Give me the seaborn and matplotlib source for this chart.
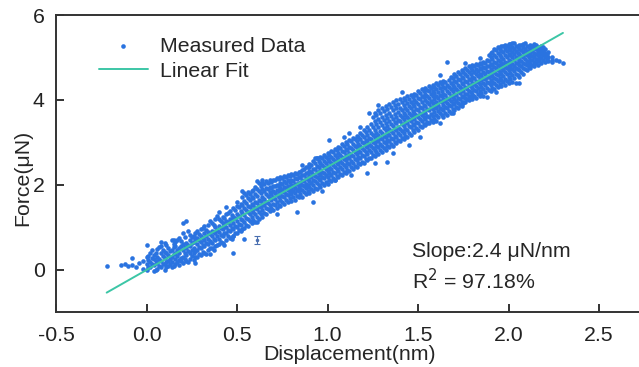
import numpy as np
import pandas as pd
import matplotlib
matplotlib.use("Agg")
import matplotlib.pyplot as plt
import seaborn as sns

# measured points (displacement nm -> force uN)
col_x = [-0.22, -0.14, -0.12, -0.10, -0.08, -0.06, -0.04, -0.02,
         0.00, 0.02, 0.04, 0.06, 0.08, 0.10, 0.12, 0.14, 0.16, 0.18,
         0.20, 0.22, 0.24, 0.26, 0.28, 0.30, 0.32, 0.34, 0.36, 0.38,
         0.40, 0.42, 0.44, 0.46, 0.48, 0.50, 0.52, 0.54, 0.56, 0.58,
         0.60, 0.62, 0.64, 0.66, 0.68, 0.70, 0.72, 0.74, 0.76, 0.78,
         0.80, 0.82, 0.84, 0.86, 0.88, 0.90, 0.92, 0.94, 0.96, 0.98,
         1.00, 1.02, 1.04, 1.06, 1.08, 1.10, 1.12, 1.14, 1.16, 1.18,
         1.20, 1.22, 1.24, 1.26, 1.28, 1.30, 1.32, 1.34, 1.36, 1.38,
         1.40, 1.42, 1.44, 1.46, 1.48, 1.50, 1.52, 1.54, 1.56, 1.58,
         1.60, 1.62, 1.64, 1.66, 1.68, 1.70, 1.72, 1.74, 1.76, 1.78,
         1.80, 1.82, 1.84, 1.86, 1.88, 1.90, 1.92, 1.94, 1.96, 1.98,
         2.00, 2.02, 2.04, 2.06, 2.08, 2.10, 2.12, 2.14, 2.16, 2.18,
         2.20, 2.22, 2.24, 2.26, 2.28, 2.30]
col_y = [
    [0.08], [0.10], [0.12], [0.08], [0.28, 0.10], [0.05], [0.15], [0.02, 0.20],
    [0.00, 0.12, 0.30, 0.59], [0.05, 0.18, 0.40], [-0.03, 0.10, 0.25, 0.35],
    [0.02, 0.15, 0.30, 0.48], [0.05, 0.20, 0.40, 0.55], [0.00, 0.12, 0.28, 0.42, 0.62],
    [0.08, 0.20, 0.35, 0.50], [0.05, 0.18, 0.30, 0.45, 0.70], [0.12, 0.25, 0.40, 0.55, 0.65],
    [0.10, 0.22, 0.38, 0.50, 0.75],
    [0.15, 0.30, 0.45, 0.60, 0.85, 1.10], [0.20, 0.35, 0.50, 0.62, 1.15],
    [0.25, 0.40, 0.55, 0.70, 0.82], [0.22, 0.38, 0.50, 0.65, 0.80],
    [0.30, 0.45, 0.60, 0.75, 0.90], [0.35, 0.50, 0.65, 0.78, 0.95],
    [0.40, 0.55, 0.70, 0.85, 1.02], [0.45, 0.60, 0.72, 0.88, 1.05],
    [0.50, 0.62, 0.78, 0.92, 1.10], [0.55, 0.70, 0.85, 1.00, 1.18],
    [0.60, 0.72, 0.88, 1.02, 1.20, 1.35], [0.62, 0.78, 0.95, 1.10, 1.25],
    [0.70, 0.85, 1.00, 1.15, 1.30], [0.75, 0.90, 1.05, 1.20, 1.38],
    [0.40, 0.80, 0.95, 1.10, 1.25, 1.45], [0.85, 1.00, 1.15, 1.30, 1.50, 1.60],
    [0.90, 1.05, 1.20, 1.38, 1.55], [0.73, 0.98, 1.12, 1.28, 1.45, 1.62, 1.80],
    [1.02, 1.18, 1.35, 1.50, 1.68, 1.82], [1.10, 1.25, 1.40, 1.55, 1.72, 1.85],
    [1.12, 1.30, 1.45, 1.60, 1.78, 1.95], [1.20, 1.35, 1.50, 1.65, 1.85, 2.05],
    [1.25, 1.40, 1.55, 1.72, 1.90, 2.05], [1.30, 1.45, 1.60, 1.78, 1.92, 2.08],
    [1.38, 1.52, 1.68, 1.82, 1.95, 2.10], [1.40, 1.55, 1.70, 1.85, 1.98, 2.12],
    [1.45, 1.60, 1.75, 1.88, 2.00, 2.15], [1.50, 1.65, 1.80, 1.92, 2.05, 2.18],
    [1.55, 1.70, 1.82, 1.95, 2.08, 2.20], [1.60, 1.75, 1.88, 1.98, 2.10, 2.22],
    [1.62, 1.78, 1.90, 2.00, 2.12, 2.25], [1.65, 1.80, 1.92, 2.02, 2.15, 2.28],
    [1.70, 1.85, 1.95, 2.05, 2.18, 2.30], [1.72, 1.88, 2.00, 2.10, 2.22, 2.35],
    [1.78, 1.92, 2.02, 2.15, 2.28, 2.42], [1.80, 1.95, 2.08, 2.20, 2.32, 2.48],
    [1.85, 2.00, 2.12, 2.25, 2.38, 2.55], [1.90, 2.05, 2.18, 2.30, 2.45, 2.62],
    [1.95, 2.10, 2.22, 2.35, 2.50, 2.65], [2.00, 2.15, 2.28, 2.42, 2.55, 2.70],
    [2.02, 2.18, 2.32, 2.45, 2.60, 2.75], [2.08, 2.22, 2.38, 2.50, 2.65, 2.80],
    [2.12, 2.28, 2.42, 2.55, 2.70, 2.85], [2.18, 2.32, 2.48, 2.60, 2.75, 2.90],
    [2.22, 2.38, 2.52, 2.65, 2.80, 2.95], [2.28, 2.42, 2.58, 2.70, 2.85, 3.00],
    [2.32, 2.48, 2.62, 2.75, 2.90, 3.05], [2.38, 2.52, 2.68, 2.82, 2.95, 3.10],
    [2.42, 2.58, 2.72, 2.88, 3.02, 3.15], [2.48, 2.62, 2.78, 2.92, 3.08, 3.22],
    [2.52, 2.68, 2.82, 2.98, 3.12, 3.30], [2.58, 2.72, 2.88, 3.02, 3.18, 3.35],
    [2.62, 2.78, 2.92, 3.08, 3.22, 3.42], [2.68, 2.82, 2.98, 3.12, 3.30, 3.50, 3.70],
    [2.72, 2.88, 3.02, 3.18, 3.35, 3.55, 3.75], [2.78, 2.92, 3.08, 3.22, 3.40, 3.60, 3.80],
    [2.82, 2.98, 3.12, 3.28, 3.45, 3.65, 3.85], [2.88, 3.02, 3.18, 3.32, 3.50, 3.70, 3.90],
    [2.92, 3.08, 3.22, 3.38, 3.55, 3.75, 3.95], [2.98, 3.12, 3.28, 3.45, 3.60, 3.80, 4.00],
    [3.02, 3.18, 3.32, 3.50, 3.65, 3.82, 4.02], [3.08, 3.22, 3.38, 3.55, 3.70, 3.88, 4.05],
    [3.12, 3.28, 3.45, 3.60, 3.75, 3.92, 4.10], [3.18, 3.35, 3.50, 3.65, 3.80, 3.95, 4.12],
    [3.25, 3.40, 3.55, 3.70, 3.85, 4.00, 4.15], [3.30, 3.45, 3.60, 3.75, 3.90, 4.05, 4.20],
    [3.35, 3.50, 3.65, 3.80, 3.95, 4.10, 4.25], [3.40, 3.55, 3.70, 3.85, 4.00, 4.15, 4.28],
    [3.45, 3.60, 3.75, 3.90, 4.05, 4.20, 4.32], [3.48, 3.62, 3.78, 3.92, 4.08, 4.22, 4.35],
    [3.50, 3.65, 3.80, 3.95, 4.10, 4.25, 4.40], [3.46, 3.68, 3.82, 3.98, 4.12, 4.28, 4.42],
    [3.60, 3.75, 3.88, 4.02, 4.15, 4.30, 4.45], [3.65, 3.80, 3.92, 4.05, 4.20, 4.35, 4.90],
    [3.70, 3.85, 3.98, 4.10, 4.25, 4.40, 4.55], [3.75, 3.90, 4.02, 4.15, 4.30, 4.45, 4.60],
    [3.80, 3.92, 4.05, 4.20, 4.35, 4.50, 4.65], [3.85, 3.95, 4.10, 4.25, 4.40, 4.55, 4.70],
    [3.95, 4.05, 4.15, 4.30, 4.45, 4.60, 4.75, 4.87], [4.00, 4.10, 4.20, 4.35, 4.50, 4.65, 4.80],
    [4.02, 4.15, 4.28, 4.40, 4.55, 4.70, 4.82], [4.05, 4.20, 4.32, 4.45, 4.60, 4.72, 4.85],
    [4.08, 4.22, 4.38, 4.50, 4.62, 4.75, 4.88], [4.10, 4.25, 4.40, 4.52, 4.65, 4.78, 4.90],
    [4.07, 4.28, 4.42, 4.55, 4.68, 4.80, 4.95], [4.20, 4.35, 4.48, 4.60, 4.72, 4.85, 5.00, 5.10],
    [4.25, 4.40, 4.52, 4.65, 4.78, 4.90, 5.05, 5.20], [4.30, 4.45, 4.58, 4.70, 4.82, 4.95, 5.10, 5.25],
    [4.32, 4.48, 4.62, 4.75, 4.88, 5.00, 5.15, 5.28], [4.35, 4.50, 4.65, 4.78, 4.90, 5.05, 5.20, 5.30],
    [4.40, 4.55, 4.70, 4.82, 4.95, 5.08, 5.22, 5.32], [4.42, 4.58, 4.72, 4.85, 5.00, 5.12, 5.25, 5.35],
    [4.40, 4.60, 4.75, 4.88, 5.02, 5.15, 5.28], [4.55, 4.70, 4.82, 4.95, 5.08, 5.20, 5.30],
    [4.62, 4.75, 4.88, 5.00, 5.12, 5.25, 5.32], [4.70, 4.82, 4.92, 5.05, 5.15, 5.28],
    [4.75, 4.85, 4.95, 5.08, 5.20, 5.30], [4.80, 4.90, 5.00, 5.10, 5.22, 5.32],
    [4.82, 4.95, 5.05, 5.15, 5.25], [4.88, 4.98, 5.08, 5.18, 5.28],
    [4.90, 5.00, 5.10, 5.20], [4.92, 5.02, 5.12], [4.90, 5.00], [4.95], [4.92], [4.88],
]

# second pass of readings, between the columns above
col_x2 = [0.01, 0.03, 0.05, 0.07, 0.09, 0.11, 0.13, 0.15, 0.17, 0.19,
          0.21, 0.23, 0.25, 0.27, 0.29, 0.31, 0.33, 0.35, 0.37, 0.39,
          0.41, 0.43, 0.45, 0.47, 0.49, 0.51, 0.53, 0.55, 0.57, 0.59,
          0.61, 0.63, 0.65, 0.67, 0.69, 0.71, 0.73, 0.75, 0.77, 0.79,
          0.81, 0.83, 0.85, 0.87, 0.89, 0.91, 0.93, 0.95, 0.97, 0.99,
          1.01, 1.03, 1.05, 1.07, 1.09, 1.11, 1.13, 1.15, 1.17, 1.19,
          1.21, 1.23, 1.25, 1.27, 1.29, 1.31, 1.33, 1.35, 1.37, 1.39,
          1.41, 1.43, 1.45, 1.47, 1.49, 1.51, 1.53, 1.55, 1.57, 1.59,
          1.61, 1.63, 1.65, 1.67, 1.69, 1.71, 1.73, 1.75, 1.77, 1.79,
          1.81, 1.83, 1.85, 1.87, 1.89, 1.91, 1.93, 1.95, 1.97, 1.99,
          2.01, 2.03, 2.05, 2.07, 2.09, 2.11, 2.13, 2.15, 2.17, 2.19, 2.21]
col_y2 = [
    [0.07, 0.22, 0.33], [0.13, 0.27, 0.46], [-0.01, 0.21, 0.38], [0.09, 0.26, 0.52],
    [0.14, 0.33, 0.47], [0.06, 0.17, 0.39, 0.57], [0.12, 0.26, 0.44], [0.09, 0.36, 0.52, 0.61],
    [0.17, 0.31, 0.47, 0.70], [0.19, 0.28, 0.56, 0.68],
    [0.24, 0.39, 0.53, 0.77], [0.17, 0.44, 0.59, 0.91], [0.31, 0.47, 0.63, 0.76],
    [0.29, 0.43, 0.71, 0.86], [0.37, 0.52, 0.69, 0.83], [0.42, 0.57, 0.74, 0.99],
    [0.36, 0.63, 0.79, 0.94], [0.51, 0.67, 0.83, 1.14], [0.47, 0.73, 0.88, 1.04],
    [0.58, 0.79, 0.93, 1.27],
    [0.66, 0.81, 0.97, 1.15], [0.59, 0.87, 1.06, 1.21], [0.79, 0.94, 1.11, 1.34],
    [0.72, 0.97, 1.17, 1.29], [0.87, 1.03, 1.21, 1.41], [0.93, 1.08, 1.26, 1.47],
    [0.96, 1.16, 1.33, 1.52, 1.71], [1.06, 1.22, 1.41, 1.58, 1.76],
    [1.14, 1.31, 1.47, 1.63, 1.79], [1.17, 1.36, 1.52, 1.69, 1.88],
    [1.24, 1.42, 1.57, 1.73, 1.91, 2.09], [1.31, 1.47, 1.62, 1.81, 1.98],
    [1.34, 1.51, 1.66, 1.85, 2.02], [1.42, 1.57, 1.74, 1.89, 2.04],
    [1.44, 1.63, 1.77, 1.93, 2.07], [1.51, 1.66, 1.81, 1.96, 2.11],
    [1.53, 1.71, 1.84, 1.97, 2.13], [1.59, 1.74, 1.87, 2.02, 2.16],
    [1.63, 1.79, 1.93, 2.04, 2.19], [1.68, 1.82, 1.95, 2.07, 2.21],
    [1.71, 1.86, 1.97, 2.09, 2.23], [1.74, 1.88, 2.01, 2.13, 2.26],
    [1.77, 1.91, 2.04, 2.17, 2.31], [1.83, 1.96, 2.09, 2.24, 2.38],
    [1.86, 1.99, 2.14, 2.27, 2.41], [1.90, 2.04, 2.17, 2.31, 2.47],
    [1.93, 2.08, 2.21, 2.36, 2.52], [1.99, 2.14, 2.27, 2.41, 2.57],
    [2.04, 2.19, 2.31, 2.46, 2.63], [2.07, 2.23, 2.37, 2.51, 2.66],
    [2.12, 2.27, 2.41, 2.55, 2.71], [2.16, 2.31, 2.46, 2.61, 2.77],
    [2.21, 2.36, 2.51, 2.66, 2.82], [2.26, 2.41, 2.56, 2.71, 2.87],
    [2.31, 2.46, 2.61, 2.77, 2.91], [2.34, 2.51, 2.66, 2.81, 2.97],
    [2.41, 2.56, 2.71, 2.86, 3.02], [2.44, 2.61, 2.76, 2.91, 3.07],
    [2.51, 2.66, 2.81, 2.96, 3.12], [2.54, 2.71, 2.86, 3.01, 3.17],
    [2.61, 2.76, 2.91, 3.06, 3.24], [2.64, 2.81, 2.96, 3.11, 3.29],
    [2.71, 2.86, 3.01, 3.17, 3.37, 3.59], [2.76, 2.91, 3.06, 3.23, 3.42, 3.64],
    [2.81, 2.96, 3.11, 3.27, 3.47, 3.69], [2.86, 3.01, 3.16, 3.33, 3.53, 3.73],
    [2.91, 3.06, 3.21, 3.38, 3.58, 3.79], [2.96, 3.11, 3.26, 3.43, 3.63, 3.84],
    [3.01, 3.16, 3.31, 3.48, 3.67, 3.88], [3.06, 3.21, 3.37, 3.53, 3.72, 3.91],
    [3.11, 3.26, 3.42, 3.59, 3.76, 3.94], [3.16, 3.31, 3.48, 3.64, 3.81, 3.99],
    [3.21, 3.38, 3.54, 3.69, 3.86, 4.03], [3.28, 3.44, 3.59, 3.74, 3.91, 4.07],
    [3.33, 3.49, 3.64, 3.79, 3.96, 4.11], [3.38, 3.54, 3.69, 3.84, 4.01, 4.16],
    [3.43, 3.59, 3.74, 3.89, 4.06, 4.21], [3.47, 3.63, 3.79, 3.94, 4.09, 4.24],
    [3.52, 3.67, 3.83, 3.98, 4.13, 4.29], [3.56, 3.71, 3.86, 4.01, 4.16, 4.31],
    [3.59, 3.74, 3.89, 4.04, 4.19, 4.34], [3.64, 3.79, 3.94, 4.08, 4.22, 4.38],
    [3.69, 3.84, 3.97, 4.12, 4.27, 4.41], [3.74, 3.88, 4.02, 4.16, 4.31, 4.47],
    [3.78, 3.92, 4.06, 4.21, 4.36, 4.52], [3.83, 3.97, 4.11, 4.26, 4.41, 4.57],
    [3.87, 4.01, 4.16, 4.31, 4.46, 4.62], [3.92, 4.07, 4.22, 4.37, 4.51, 4.66],
    [4.03, 4.13, 4.26, 4.41, 4.56, 4.71], [4.06, 4.19, 4.33, 4.47, 4.61, 4.76],
    [4.09, 4.24, 4.37, 4.51, 4.66, 4.79], [4.13, 4.27, 4.42, 4.56, 4.69, 4.82],
    [4.16, 4.31, 4.46, 4.59, 4.72, 4.85], [4.19, 4.34, 4.49, 4.62, 4.75, 4.88],
    [4.24, 4.39, 4.53, 4.66, 4.79, 4.92, 5.06], [4.28, 4.43, 4.56, 4.69, 4.83, 4.97, 5.14],
    [4.34, 4.49, 4.62, 4.75, 4.88, 5.02, 5.17], [4.37, 4.52, 4.66, 4.79, 4.92, 5.06, 5.21],
    [4.41, 4.56, 4.71, 4.84, 4.97, 5.12, 5.26], [4.44, 4.61, 4.76, 4.88, 5.01, 5.16, 5.27],
    [4.49, 4.64, 4.78, 4.91, 5.05, 5.18, 5.31], [4.52, 4.67, 4.81, 4.94, 5.07, 5.21, 5.33],
    [4.59, 4.73, 4.86, 4.98, 5.11, 5.24], [4.66, 4.79, 4.91, 5.04, 5.17, 5.29],
    [4.73, 4.85, 4.97, 5.09, 5.21, 5.33], [4.78, 4.89, 5.01, 5.12, 5.24],
    [4.83, 4.93, 5.04, 5.16, 5.27], [4.86, 4.97, 5.08, 5.19, 5.29],
    [4.91, 5.02, 5.13, 5.23], [4.94, 5.05, 5.15, 5.25], [4.96, 5.07],
]

# stray points along the edges of the band
stray_x = [0.08, 0.15, 0.48, 0.53, 0.61, 0.64, 0.83, 0.90, 0.92, 0.93,
           0.94, 1.01, 1.04, 1.18, 1.22, 1.23, 1.28, 1.33, 1.36, 1.45,
           1.51, 1.55, 1.69, 1.75, 1.93, 2.06, 2.24, 0.27, 0.35, 0.72,
           0.97, 1.09, 1.13, 1.41, 1.62, 1.84, 1.12, 0.44, 0.86, 1.26]
stray_y = [0.66, 0.70, 0.78, 1.84, 1.13, 2.12, 1.36, 2.42, 1.60, 2.63,
           2.64, 3.06, 2.12, 3.36, 2.28, 3.69, 3.88, 2.54, 2.75, 2.94,
           3.13, 3.46, 3.69, 3.95, 4.19, 4.40, 4.94, 0.16, 0.36, 1.32,
           1.86, 3.12, 2.24, 4.18, 4.58, 4.98, 3.22, 1.48, 2.46, 2.50]

# linear fit
fit_slope = 2.43
fit_intercept = -0.01
slope_text = "Slope:2.4 \u03bcN/nm"
r2_text = "R$^2$ = 97.18%"

# the small error-bar glyph near (0.61, 0.7)
eb_x, eb_y, eb_err = 0.61, 0.70, 0.09

disp = [x for x, ys in zip(col_x + col_x2, col_y + col_y2) for _ in ys] + stray_x
force = [y for ys in col_y + col_y2 for y in ys] + stray_y
df = pd.DataFrame({"disp": disp, "force": force})

fit_x = np.array([df["disp"].min(), df["disp"].max()])
fit_df = pd.DataFrame({"disp": fit_x, "force": fit_slope * fit_x + fit_intercept})

sns.set_style("ticks")
plt.rcParams["font.family"] = ["Liberation Sans", "DejaVu Sans"]

fig = plt.figure(figsize=(6.39, 3.67), dpi=100)
ax = fig.add_axes([0.0876, 0.15, 0.9124, 0.809])

dot_color = "#2a73e0"
fit_color = "#3cc6a6"
fs = 15.3

sns.scatterplot(data=df, x="disp", y="force", ax=ax, s=11, color=dot_color,
                linewidth=0, label="Measured Data")
sns.lineplot(data=fit_df, x="disp", y="force", ax=ax, color=fit_color, lw=1.4,
             label="Linear Fit")
ax.errorbar([eb_x], [eb_y], yerr=[eb_err], fmt="o", ms=1.5, color="#4a6fb0",
            capsize=2.5, elinewidth=0.8, capthick=0.8)

ax.set_xlim(-0.5, 2.72)
ax.set_ylim(-1, 6)
ax.set_xticks([-0.5, 0.0, 0.5, 1.0, 1.5, 2.0, 2.5])
ax.set_xticklabels(["-0.5", "0.0", "0.5", "1.0", "1.5", "2.0", "2.5"])
ax.set_yticks([0, 2, 4, 6])
ax.tick_params(direction="in", length=6, width=1.3, labelsize=fs,
               colors="#222222")
ax.tick_params(axis="x", pad=10)
ax.tick_params(axis="y", pad=8)
for side in ["left", "bottom", "top"]:
    ax.spines[side].set_linewidth(1.4)
    ax.spines[side].set_color("#333333")
ax.spines["right"].set_visible(False)

ax.set_xlabel("Displacement(nm)", fontsize=fs)
ax.set_ylabel("Force(\u03bcN)", fontsize=fs)
ax.xaxis.set_label_coords(0.504, -0.11)
ax.yaxis.set_label_coords(-0.041, 0.45)

leg = ax.legend(loc="upper left", bbox_to_anchor=(0.059, 0.955), frameon=False,
                fontsize=fs, handlelength=2.3, handletextpad=0.56,
                labelspacing=0.28, markerscale=1.0, borderaxespad=0)

ax.text(1.464, 0.42, slope_text, fontsize=fs, va="center", ha="left")
ax.text(1.464, -0.25, r2_text, fontsize=fs, va="center", ha="left")

fig.savefig("out.png", dpi=100)
